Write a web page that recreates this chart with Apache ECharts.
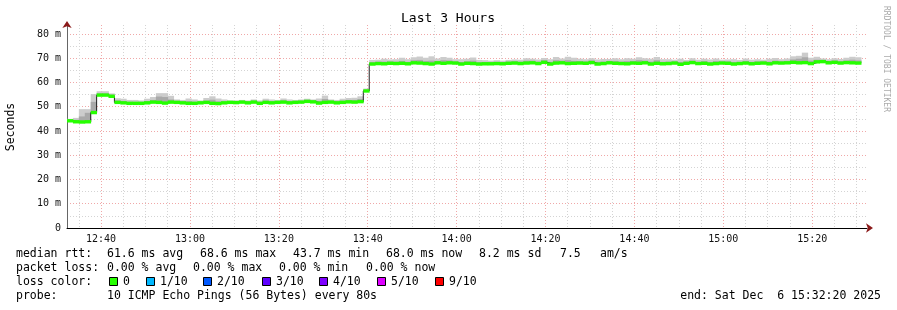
<!DOCTYPE html>
<html><head><meta charset="utf-8">
<script src="https://cdn.jsdelivr.net/npm/echarts@6/dist/echarts.min.js"></script>
<style>html,body{margin:0;padding:0;background:#fff}#c{width:897px;height:310px}</style>
</head><body><div id="c"></div>
<script>
// ---- data ----
const startTime = 45140;   // 12:32:20 as seconds of day
const endTime = 55940;     // 15:32:20
const stepSeconds = 80;
const medianRtt = [
 44.2,43.8,43.7,43.8,47.6,54.8,54.8,54.3,
 51.8,51.6,51.4,51.4,51.4,51.6,51.9,51.8,51.5,51.9,
 51.8,51.6,51.4,51.4,51.6,51.8,51.4,51.3,51.6,51.8,
 51.7,51.9,51.6,51.9,51.4,51.8,51.6,51.8,51.9,51.6,
 51.8,51.9,52.2,52.0,51.5,51.8,51.9,51.6,51.8,52.0,
 51.9,52.1,56.5,
 67.6,67.8,67.7,67.9,67.8, 67.9,67.7,68.1,68.0,67.8, 67.6,68.1,67.9,68.1,68.0, 67.6,67.9,67.8,67.6,67.7,
 67.7,67.8,67.7,67.9,68.0, 67.8,68.0,68.1,67.8,68.3, 67.6,68.0,68.1,67.8,67.9, 68.0,67.9,68.2,67.6,67.8,
 68.1,67.9,67.8,67.7,68.0, 67.9,68.1,67.6,67.9,67.7, 67.8,68.0,67.5,67.9,68.2, 67.8,67.9,67.6,67.8,68.0,
 67.9,67.6,67.8,68.0,67.7, 67.9,68.0,67.7,68.1,68.0, 68.1,68.3,68.1,68.2,67.8, 68.5,68.6,68.1,68.3,68.0,
 68.2,68.1,68.0
];
const smokeMid = [
 44.6,44.6,46.0,47.5,52.0,55.5,55.5,55.0,
 52.6,52.4,52.0,51.9,51.9,52.3,52.8,54.2,54.0,53.0,
 52.4,52.2,52.3,52.0,52.1,52.5,52.9,52.2,52.1,52.3,
 52.2,52.4,52.1,52.5,51.9,52.5,52.2,52.3,52.6,52.2,
 52.3,52.4,52.8,52.6,52.3,53.2,52.5,52.2,52.5,52.8,
 52.8,53.2,57.0,
 68.4,68.6,68.6,68.7,68.6, 68.9,68.5,69.2,69.3,68.9, 69.0,68.9,69.2,69.1,68.7, 68.4,68.7,69.0,68.4,68.4,
 68.4,68.5,68.4,68.6,68.8, 68.6,69.0,69.0,68.6,69.2, 68.5,69.2,69.0,69.2,68.9, 68.8,68.7,69.1,68.5,68.6,
 68.9,68.9,68.6,68.8,68.9, 69.2,69.0,68.6,69.2,68.5, 68.6,68.7,68.4,68.6,69.0, 68.5,68.8,68.4,68.8,68.7,
 68.7,68.4,68.5,68.9,68.5, 68.7,68.7,68.6,69.0,68.8, 68.9,69.5,69.8,70.4,69.0, 69.4,69.3,68.9,69.1,68.8,
 69.1,69.4,69.1
];
const smokeTop = [
 45.0,45.4,49.0,49.0,55.2,56.4,56.4,55.5,
 53.5,53.3,52.8,52.8,52.6,53.3,54.0,55.6,55.6,54.5,
 53.0,52.8,53.4,53.0,52.6,53.6,54.3,53.4,53.0,52.6,
 52.6,52.8,52.6,53.0,52.6,53.3,53.0,52.8,53.4,53.0,
 52.8,53.0,53.3,53.0,53.4,54.6,53.0,52.8,53.3,53.6,
 53.7,54.3,57.5,
 69.3,69.4,69.8,69.5,69.6, 70.2,69.6,70.4,70.7,70.2, 70.8,69.9,70.5,70.2,69.6, 69.6,69.8,70.3,69.3,69.2,
 69.0,69.2,69.0,69.3,69.5, 69.4,70.0,69.8,69.5,70.1, 69.6,70.5,69.9,70.6,70.2, 69.8,69.6,70.0,69.5,69.7,
 69.7,70.0,69.6,70.0,69.8, 70.4,70.0,69.8,70.5,69.6, 69.6,69.4,69.8,69.3,70.0, 69.4,69.8,69.5,69.9,69.4,
 69.5,69.6,69.3,69.9,69.4, 69.6,69.4,69.8,70.1,69.6, 69.9,70.8,71.0,72.3,70.2, 70.6,69.9,69.6,70.0,69.7,
 70.2,70.6,70.4
];
const xTickLabels = ['12:40','13:00','13:20','13:40','14:00','14:20','14:40','15:00','15:20'];
const yTickValues = [0,10,20,30,40,50,60,70,80];
const yMinorValues = [5,15,25,35,45,55,65,75];
const lossLabels = ['0','1/10','2/10','3/10','4/10','5/10','9/10'];
const lossColors = ['#26ff00','#00b8ff','#0059ff','#5e00ff','#7e00ff','#dd00ff','#ff0000'];

// ---- build ----
(function () {
const toSec = s => { const [h,m] = s.split(':').map(Number); return h*3600 + m*60; };
const fmt = v => { const h = Math.floor(v/3600), m = Math.round((v%3600)/60); return h + ':' + String(m).padStart(2,'0'); };
const xMajor = xTickLabels.map(toSec);
const xMinor = [];
for (let tt = Math.ceil(startTime/300)*300; tt <= endTime; tt += 300) if (xMajor.indexOf(tt) < 0) xMinor.push(tt);

const med = medianRtt;
const x0 = i => startTime + i*stepSeconds;
const greenHalf = 0.7;
// rows: [xStart, xEnd, low, high]
const bandRows = (lo, hi) => med.map((_, i) => [x0(i), x0(i+1), lo(i), hi(i)]);
const outerRows = bandRows(i => med[i], i => smokeTop[i]);
const innerRows = bandRows(i => med[i], i => smokeMid[i]);
const greenRows = bandRows(i => med[i] - greenHalf, i => med[i] + greenHalf);
const linePts = med.map((v, i) => [x0(i), v]).concat([[x0(med.length), med[med.length-1]]]);

const mono = '"DejaVu Sans Mono", monospace';
const chart = echarts.init(document.getElementById('c'), null, {renderer:'canvas'});

const bandSeries = (name, rows, color, z) => ({
  type:'custom', name, data:rows, silent:true, animation:false, z,
  xAxisIndex:0, yAxisIndex:0,
  encode:{x:[0,1], y:[2,3]},
  renderItem:(params, api) => {
    const a = api.coord([api.value(0), api.value(3)]);
    const b = api.coord([api.value(1), api.value(2)]);
    return {type:'rect', shape:{x:a[0], y:a[1], width:b[0]-a[0]+0.4, height:Math.max(b[1]-a[1], 0.5)},
      style:{fill:color}};
  }
});

const texts = [];
const t = (x, y, s) => texts.push({type:'text', x, y, silent:true,
  style:{text:s, font:'11.5px ' + mono, fill:'#000', align:'left', verticalAlign:'middle'}});
texts.push({type:'text', x:448, y:19, silent:true,
  style:{text:'Last 3 Hours', font:'13px ' + mono, fill:'#000', align:'center', verticalAlign:'middle'}});
texts.push({type:'text', x:11, y:127, rotation:Math.PI/2, silent:true,
  style:{text:'Seconds', font:'11.5px ' + mono, fill:'#000', align:'center', verticalAlign:'middle'}});
texts.push({type:'text', x:886, y:59, rotation:-Math.PI/2, silent:true,
  style:{text:'RRDTOOL / TOBI OETIKER', font:'8px ' + mono, fill:'#aaaaaa', align:'center', verticalAlign:'middle'}});
[[16,'median rtt:'],[107,'61.6 ms avg'],[200,'68.6 ms max'],[293,'43.7 ms min'],[386,'68.0 ms now'],[479,'8.2 ms sd'],[560,'7.5'],[600,'am/s']]
  .forEach(p => t(p[0], 254, p[1]));
[[16,'packet loss:'],[107,'0.00 % avg'],[193,'0.00 % max'],[279,'0.00 % min'],[366,'0.00 % now']]
  .forEach(p => t(p[0], 268, p[1]));
t(16, 282, 'loss color:');
const sqX = [109,146,203,262,319,377,435];
lossLabels.forEach((lab, i) => {
  texts.push({type:'rect', silent:true, shape:{x:sqX[i]+0.5, y:277.5, width:8, height:8},
    style:{fill:lossColors[i], stroke:'#000', lineWidth:1}});
  t(sqX[i]+14, 282, lab);
});
t(16, 296, 'probe:');
t(107, 296, '10 ICMP Echo Pings (56 Bytes) every 80s');
texts.push({type:'text', x:881, y:296, silent:true,
  style:{text:'end: Sat Dec  6 15:32:20 2025', font:'11.5px ' + mono, fill:'#000', align:'right', verticalAlign:'middle'}});

const arrowColor = '#8b1a1a';
const option = {
  backgroundColor:'#ffffff',
  animation:false,
  grid:{left:67, right:30, top:25, bottom:82, containLabel:false},
  xAxis:[
    {type:'value', min:startTime, max:endTime,
     axisLine:{show:true, lineStyle:{color:'#000', width:1}},
     axisTick:{show:false, customValues:xMajor},
     axisLabel:{show:true, customValues:xMajor, formatter:fmt, color:'#111', fontFamily:mono, fontSize:10, margin:6},
     splitLine:{show:true, lineStyle:{color:'#f0a8a8', type:[1,2], width:1}}},
    {type:'value', min:startTime, max:endTime, position:'bottom',
     axisLine:{show:true, symbol:['none','arrow'], symbolSize:[7,7], symbolOffset:[0,6], lineStyle:{color:arrowColor, width:0}},
     axisTick:{show:false, customValues:xMinor},
     axisLabel:{show:false, customValues:xMinor},
     splitLine:{show:true, lineStyle:{color:'#d4d4d4', type:[1,2], width:1}}}
  ],
  yAxis:[
    {type:'value', min:0, max:83.7,
     axisLine:{show:true, lineStyle:{color:'#666', width:1}},
     axisTick:{show:false, customValues:yTickValues},
     axisLabel:{show:true, customValues:yTickValues, formatter:v => v === 0 ? '0' : v + ' m', color:'#111', fontFamily:mono, fontSize:10, margin:6},
     splitLine:{show:true, lineStyle:{color:'#f0a8a8', type:[1,2], width:1}}},
    {type:'value', min:0, max:83.7, position:'left',
     axisLine:{show:true, symbol:['none','arrow'], symbolSize:[7,7], symbolOffset:[0,4], lineStyle:{color:arrowColor, width:0}},
     axisTick:{show:false, customValues:yMinorValues},
     axisLabel:{show:false, customValues:yMinorValues},
     splitLine:{show:true, lineStyle:{color:'#d4d4d4', type:[1,2], width:1}}}
  ],
  series:[
    bandSeries('smokeOuter', outerRows, '#cccccc', 2),
    bandSeries('smokeInner', innerRows, '#a9a9a9', 3),
    {type:'line', name:'medianLine', step:'end', symbol:'none', silent:true, animation:false, z:4,
     xAxisIndex:0, yAxisIndex:0, data:linePts, lineStyle:{color:'#202020', width:1}},
    bandSeries('median', greenRows, lossColors[0], 5)
  ],
  graphic:texts
};
chart.setOption(option);
})();
</script>
</body></html>
